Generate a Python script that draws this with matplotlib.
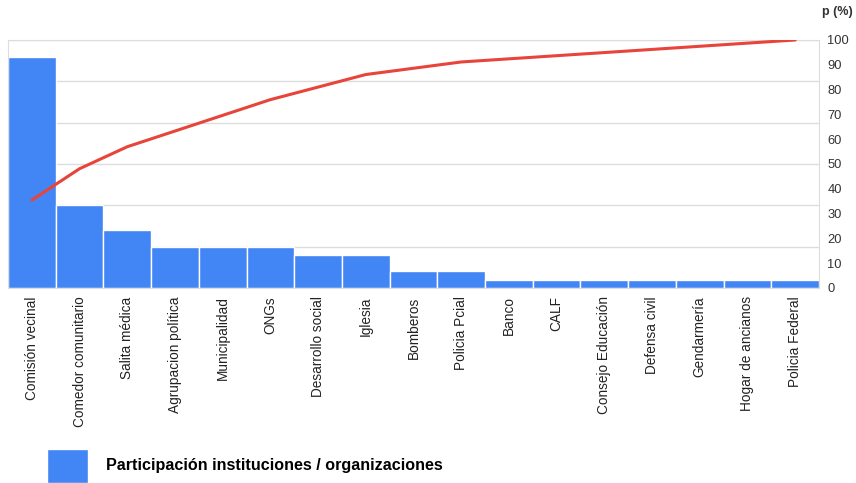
import numpy as np
import matplotlib
matplotlib.use("Agg")
import matplotlib.pyplot as plt

# data
categories = ["Comisión vecinal", "Comedor comunitario", "Salita médica",
              "Agrupacion política", "Municipalidad", "ONGs", "Desarrollo social",
              "Iglesia", "Bomberos", "Policia Pcial", "Banco", "CALF",
              "Consejo Educación", "Defensa civil", "Gendarmería",
              "Hogar de ancianos", "Policia Federal"]
counts = [28, 10, 7, 5, 5, 5, 4, 4, 2, 2, 1, 1, 1, 1, 1, 1, 1]
series_label = "Participación instituciones / organizaciones"
pct_ticks = list(range(0, 101, 10))

cum_pct = np.cumsum(counts) / np.sum(counts) * 100

plt.rcParams["font.family"] = ["Liberation Sans", "DejaVu Sans"]

fig = plt.figure(figsize=(8.56, 4.83), dpi=100)
ax = fig.add_axes([8 / 856, 1 - 288 / 483, (819 - 8) / 856, (288 - 40) / 483])

x = np.arange(len(categories))
bars = ax.bar(x, counts, width=1.0, color="#4285f4", edgecolor="white",
              linewidth=1, label=series_label, zorder=2)
ax.set_xlim(-0.5, len(categories) - 0.5)
ax.set_ylim(0, 30)
ax.set_yticks(range(0, 31, 5))
ax.yaxis.grid(True, color="#dddddd", linewidth=1, zorder=0)
ax.set_axisbelow(True)
ax.set_xticks(x)
ax.set_xticklabels(categories, rotation=90, fontsize=9.8, color="#222222")
ax.tick_params(axis="x", length=0, pad=6)
for s in ax.spines.values():
    s.set_color("#dddddd")

ax2 = ax.twinx()
# twinx turns the left ticks back on
ax.tick_params(axis="y", left=False, labelleft=False, right=False, labelright=False)
ax2.plot(x, cum_pct, color="#e8443a", linewidth=2.2, solid_capstyle="round")
ax2.set_ylim(0, 100)
ax2.set_yticks(pct_ticks)
ax2.tick_params(axis="y", length=0, pad=6, labelsize=9.3, labelcolor="#333333")
for s in ax2.spines.values():
    s.set_visible(False)

fig.text(837 / 856, 1 - 12 / 483, "p (%)", ha="center", va="center",
         fontsize=9, fontweight="bold", color="#333333")

fig.legend(handles=[bars], loc="lower left", bbox_to_anchor=(39 / 856, -0.016),
           frameon=False, prop={"weight": "bold", "size": 11.6},
           handlelength=2.55, handleheight=2.87, handletextpad=1.1, borderpad=0.0)

fig.savefig("out.png", dpi=100)
